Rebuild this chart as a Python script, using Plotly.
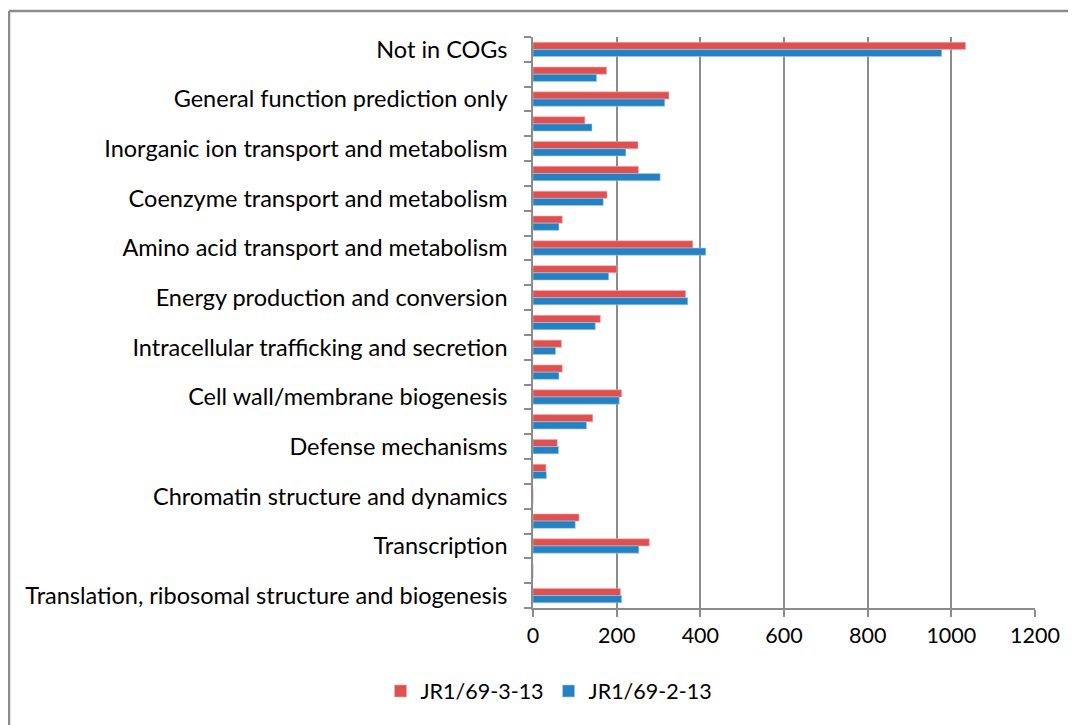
import plotly.graph_objects as go

# Categories top-to-bottom as drawn
categories = [
    "Not in COGs",
    "Function unknown",
    "General function prediction only",
    "Secondary metabolites biosynthesis, transport and catabolism",
    "Inorganic ion transport and metabolism",
    "Lipid transport and metabolism",
    "Coenzyme transport and metabolism",
    "Nucleotide transport and metabolism",
    "Amino acid transport and metabolism",
    "Carbohydrate transport and metabolism",
    "Energy production and conversion",
    "Posttranslational modification, protein turnover, chaperones",
    "Intracellular trafficking and secretion",
    "Cell motility",
    "Cell wall/membrane biogenesis",
    "Signal transduction mechanisms",
    "Defense mechanisms",
    "Cell cycle control, cell division, chromosome partitioning",
    "Chromatin structure and dynamics",
    "Replication, recombination and repair",
    "Transcription",
    "RNA processing and modification",
    "Translation, ribosomal structure and biogenesis",
]
# Labels shown on the axis (every other category)
shown_labels = [c if i % 2 == 0 else "" for i, c in enumerate(categories)]

jr1_69_3_13 = [1034, 176, 325, 124, 251, 252, 177, 70, 382, 201, 365, 161,
               68, 70, 212, 143, 58, 31, 0, 110, 278, 0, 209]
jr1_69_2_13 = [977, 152, 315, 141, 222, 304, 168, 62, 413, 181, 370, 149,
               54, 62, 206, 128, 61, 32, 0, 101, 253, 0, 212]

x_ticks = [0, 200, 400, 600, 800, 1000, 1200]

RED = "#DF5150"
BLUE = "#2481C2"
GRID = "#8C8C8C"
FONT = "Lato"

fig = go.Figure()
fig.add_trace(go.Bar(y=categories, x=jr1_69_3_13, orientation="h", name="JR1/69-3-13",
                     marker=dict(color=RED, line=dict(color="#F3B0B0", width=0.6))))
fig.add_trace(go.Bar(y=categories, x=jr1_69_2_13, orientation="h", name="JR1/69-2-13",
                     marker=dict(color=BLUE, line=dict(color="#A8CBE8", width=0.6))))

OFF = 8  # page body margin
W, H = 1068, 717
L, R, T = 533 - OFF, 41, 37 - OFF
B = H - (608 - OFF)
pw, ph = W - L - R, H - T - B

def px_x(p):
    return (p - OFF - L) / pw

def px_y(p):
    return (H - B - (p - OFF)) / ph

fig.update_layout(
    width=W, height=H,
    margin=dict(l=L, r=R, t=T, b=B, pad=0),
    paper_bgcolor="white", plot_bgcolor="white",
    barmode="group", bargap=0.42, bargroupgap=0,
    font=dict(family=FONT, size=23, color="black"),
    showlegend=True,
    legend=dict(orientation="h", x=px_x(549), y=px_y(691), xanchor="center", yanchor="middle",
                font=dict(family=FONT, size=21.5), itemwidth=30, bgcolor="rgba(0,0,0,0)"),
    xaxis=dict(range=[0, 1200], tickvals=x_ticks, ticktext=[str(v) for v in x_ticks],
               showgrid=True, gridcolor=GRID, gridwidth=1.5,
               showline=True, linecolor=GRID, linewidth=1.5,
               ticks="outside", ticklen=7, tickcolor=GRID, tickwidth=1.5,
               zeroline=False, tickfont=dict(family=FONT, size=21.5)),
    yaxis=dict(type="category", categoryorder="array", categoryarray=categories,
               autorange="reversed", tickvals=categories, ticktext=shown_labels,
               tickson="boundaries", ticks="outside", ticklen=7, tickcolor=GRID, tickwidth=1.5,
               showline=True, linecolor=GRID, linewidth=1.5, showgrid=False,
               ticklabelstandoff=19, tickfont=dict(family=FONT, size=23.5)),
    shapes=[
        dict(type="line", xref="paper", yref="paper", x0=px_x(9), x1=px_x(1090),
             y0=px_y(11), y1=px_y(11), line=dict(color=GRID, width=2.5)),
        dict(type="line", xref="paper", yref="paper", x0=px_x(9), x1=px_x(9),
             y0=px_y(11), y1=px_y(740), line=dict(color=GRID, width=2.5)),
    ],
)

fig.write_html("out.html")
